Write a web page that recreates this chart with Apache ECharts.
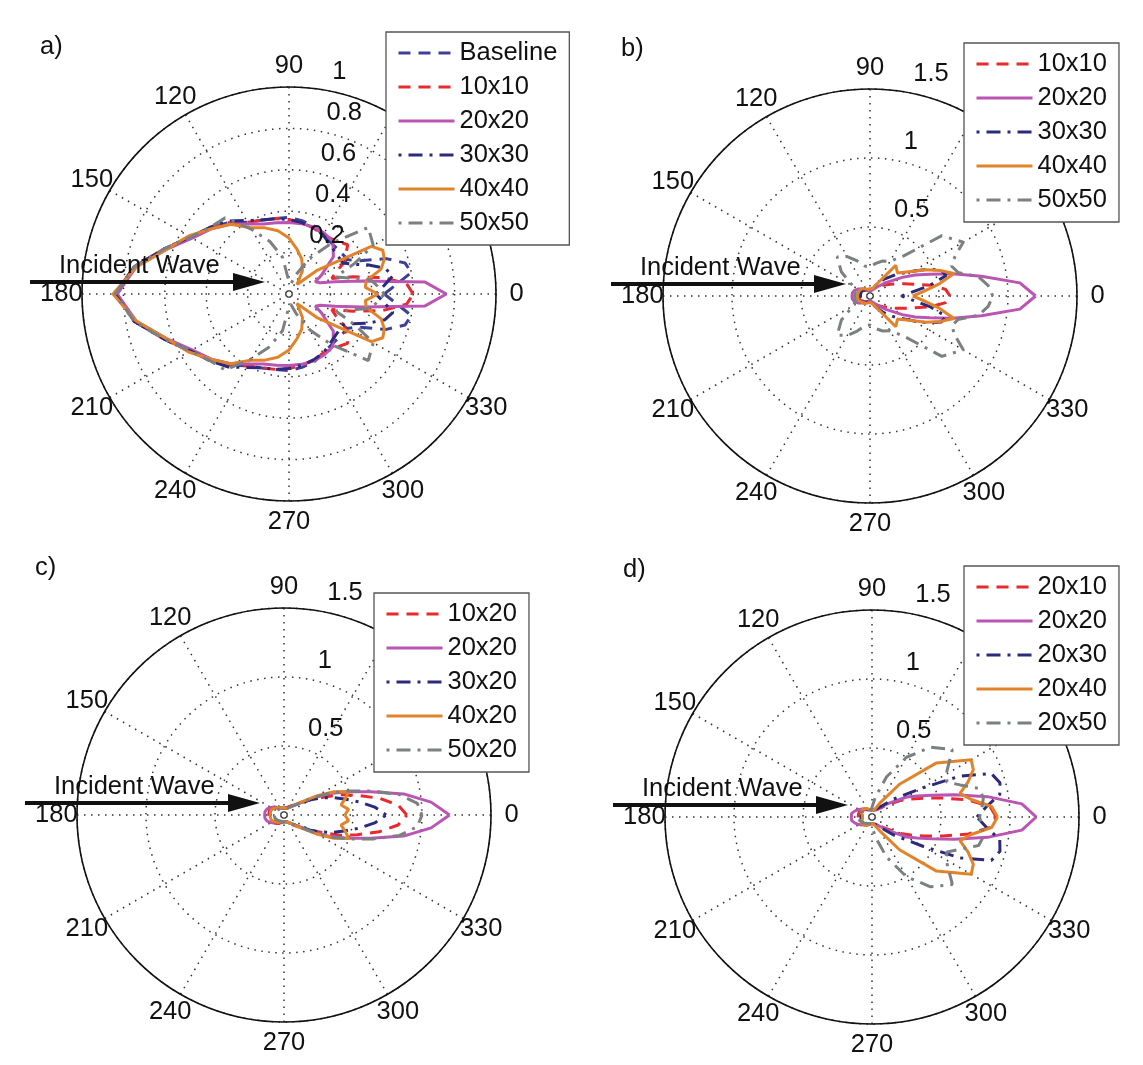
<!DOCTYPE html>
<html>
<head>
<meta charset="utf-8">
<script src="https://cdn.jsdelivr.net/npm/echarts@6/dist/echarts.min.js"></script>
<style>
html, body { margin: 0; padding: 0; background: #ffffff; }
#chart { width: 1143px; height: 1065px; }
</style>
</head>
<body>
<div id="chart"></div>
<script>
// Polar sampling angles (degrees), finer near the forward direction
const ANGLES = [0,5,10,15,20,25,30,40,50,60,70,80,90,100,110,120,130,140,150,160,170,180,
  190,200,210,220,230,240,250,260,270,280,290,300,310,320,330,335,340,345,350,355,360];

// Tick labels
const ANGLE_TICKS = [0,30,60,90,120,150,180,210,240,270,300,330];
const RING_TICKS_A = [0.2,0.4,0.6,0.8,1];
const RING_TICKS_BCD = [0.5,1,1.5];

// a) square patches of increasing size
const A_BASE = [0.46,0.52,0.60,0.58,0.50,0.38,0.33,0.32,0.32,0.33,0.35,0.36,0.37,0.37,0.38,0.40,0.45,0.50,0.55,0.64,0.76,0.83,
  0.76,0.64,0.55,0.50,0.45,0.40,0.38,0.37,0.37,0.36,0.35,0.33,0.32,0.32,0.33,0.38,0.50,0.58,0.60,0.52,0.46];
const A_10 = [0.60,0.57,0.46,0.32,0.22,0.25,0.31,0.37,0.34,0.33,0.34,0.35,0.36,0.37,0.38,0.40,0.45,0.50,0.55,0.64,0.76,0.83,
  0.76,0.64,0.55,0.50,0.45,0.40,0.38,0.37,0.36,0.35,0.34,0.33,0.34,0.37,0.31,0.25,0.22,0.32,0.46,0.57,0.60];
const A_20 = [0.76,0.66,0.36,0.23,0.16,0.14,0.18,0.28,0.33,0.34,0.345,0.345,0.345,0.35,0.36,0.39,0.44,0.49,0.54,0.63,0.75,0.83,
  0.75,0.63,0.54,0.49,0.44,0.39,0.36,0.35,0.345,0.345,0.345,0.34,0.33,0.28,0.18,0.14,0.16,0.23,0.36,0.66,0.76];
const A_30 = [0.42,0.46,0.51,0.48,0.41,0.34,0.30,0.30,0.31,0.33,0.34,0.35,0.36,0.37,0.38,0.41,0.46,0.50,0.55,0.64,0.76,0.84,
  0.76,0.64,0.55,0.50,0.46,0.41,0.38,0.37,0.36,0.35,0.34,0.33,0.31,0.30,0.30,0.34,0.41,0.48,0.51,0.46,0.42];
const A_40 = [0.43,0.37,0.38,0.46,0.49,0.50,0.46,0.18,0.06,0.13,0.18,0.22,0.27,0.31,0.34,0.37,0.44,0.49,0.56,0.63,0.75,0.85,
  0.75,0.63,0.56,0.49,0.44,0.37,0.34,0.31,0.27,0.22,0.18,0.13,0.06,0.18,0.46,0.50,0.49,0.46,0.38,0.37,0.43];
const A_50 = [0.46,0.43,0.40,0.30,0.24,0.35,0.47,0.50,0.32,0.20,0.10,0.05,0.06,0.18,0.27,0.36,0.48,0.50,0.55,0.64,0.76,0.84,
  0.76,0.64,0.55,0.50,0.48,0.36,0.27,0.18,0.06,0.05,0.10,0.20,0.32,0.50,0.47,0.35,0.24,0.30,0.40,0.43,0.46];

// b) square patches
const B_10 = [0.58,0.55,0.45,0.33,0.26,0.21,0.17,0.12,0.09,0.07,0.06,0.05,0.05,0.05,0.05,0.05,0.05,0.06,0.07,0.08,0.08,0.08,
  0.08,0.08,0.07,0.06,0.05,0.05,0.05,0.05,0.05,0.05,0.06,0.07,0.09,0.12,0.17,0.21,0.26,0.33,0.45,0.55,0.58];
const B_20 = [1.20,1.09,0.82,0.62,0.46,0.36,0.27,0.15,0.09,0.06,0.05,0.04,0.04,0.04,0.04,0.05,0.06,0.08,0.10,0.12,0.13,0.13,
  0.13,0.12,0.10,0.08,0.06,0.05,0.04,0.04,0.04,0.04,0.05,0.06,0.09,0.15,0.27,0.36,0.46,0.62,0.82,1.09,1.20];
const B_30 = [0.23,0.30,0.44,0.57,0.55,0.46,0.36,0.24,0.16,0.10,0.06,0.05,0.05,0.05,0.05,0.05,0.06,0.06,0.07,0.07,0.07,0.07,
  0.07,0.07,0.07,0.06,0.06,0.05,0.05,0.05,0.05,0.05,0.06,0.10,0.16,0.24,0.36,0.46,0.55,0.57,0.44,0.30,0.23];
const B_40 = [0.31,0.39,0.51,0.63,0.54,0.45,0.36,0.26,0.29,0.10,0.06,0.05,0.05,0.05,0.05,0.06,0.07,0.08,0.08,0.09,0.09,0.09,
  0.09,0.09,0.08,0.08,0.07,0.06,0.05,0.05,0.05,0.05,0.06,0.10,0.29,0.26,0.36,0.45,0.54,0.63,0.51,0.39,0.31];
const B_50 = [0.89,0.86,0.80,0.66,0.63,0.68,0.78,0.68,0.38,0.29,0.27,0.24,0.21,0.22,0.27,0.33,0.37,0.27,0.14,0.11,0.11,0.11,
  0.11,0.11,0.14,0.27,0.37,0.33,0.27,0.22,0.21,0.24,0.27,0.29,0.38,0.68,0.78,0.68,0.63,0.66,0.80,0.86,0.89];

// c) length varied, width 20
const C_10 = [0.89,0.83,0.70,0.55,0.43,0.30,0.22,0.13,0.09,0.07,0.06,0.05,0.05,0.05,0.06,0.07,0.08,0.09,0.10,0.11,0.11,0.11,
  0.11,0.11,0.10,0.09,0.08,0.07,0.06,0.05,0.05,0.05,0.06,0.07,0.09,0.13,0.22,0.30,0.43,0.55,0.70,0.83,0.89];
const C_20 = [1.20,1.07,0.88,0.65,0.49,0.37,0.25,0.12,0.08,0.06,0.05,0.05,0.05,0.05,0.05,0.06,0.07,0.09,0.11,0.13,0.14,0.14,
  0.14,0.13,0.11,0.09,0.07,0.06,0.05,0.05,0.05,0.05,0.05,0.06,0.08,0.12,0.25,0.37,0.49,0.65,0.88,1.07,1.20];
const C_30 = [0.74,0.66,0.55,0.45,0.37,0.29,0.22,0.12,0.08,0.06,0.05,0.05,0.05,0.05,0.05,0.06,0.07,0.08,0.09,0.10,0.10,0.10,
  0.10,0.10,0.09,0.08,0.07,0.06,0.05,0.05,0.05,0.05,0.05,0.06,0.08,0.12,0.22,0.29,0.37,0.45,0.55,0.66,0.74];
const C_40 = [0.44,0.47,0.42,0.46,0.50,0.40,0.28,0.13,0.08,0.06,0.05,0.05,0.05,0.05,0.05,0.06,0.07,0.08,0.09,0.10,0.10,0.10,
  0.10,0.10,0.09,0.08,0.07,0.06,0.05,0.05,0.05,0.05,0.05,0.06,0.08,0.13,0.28,0.40,0.50,0.46,0.42,0.47,0.44];
const C_50 = [1.00,0.97,0.85,0.67,0.51,0.38,0.26,0.12,0.08,0.06,0.05,0.05,0.05,0.05,0.05,0.05,0.05,0.06,0.06,0.07,0.07,0.07,
  0.07,0.07,0.06,0.06,0.05,0.05,0.05,0.05,0.05,0.05,0.05,0.06,0.08,0.12,0.26,0.38,0.51,0.67,0.85,0.97,1.00];

// d) length 20, width varied
const D_10 = [0.90,0.86,0.71,0.53,0.40,0.31,0.24,0.13,0.08,0.06,0.05,0.05,0.05,0.05,0.05,0.06,0.07,0.08,0.09,0.10,0.10,0.10,
  0.10,0.10,0.09,0.08,0.07,0.06,0.05,0.05,0.05,0.05,0.05,0.06,0.08,0.13,0.24,0.31,0.40,0.53,0.71,0.86,0.90];
const D_20 = [1.19,1.09,0.85,0.62,0.46,0.36,0.29,0.15,0.09,0.06,0.05,0.05,0.05,0.05,0.05,0.06,0.07,0.09,0.11,0.13,0.15,0.15,
  0.15,0.13,0.11,0.09,0.07,0.06,0.05,0.05,0.05,0.05,0.05,0.06,0.09,0.15,0.29,0.36,0.46,0.62,0.85,1.09,1.19];
const D_30 = [0.76,0.83,0.94,0.96,0.92,0.70,0.42,0.20,0.10,0.07,0.06,0.05,0.05,0.05,0.05,0.06,0.07,0.08,0.08,0.08,0.08,0.08,
  0.08,0.08,0.08,0.08,0.07,0.06,0.05,0.05,0.05,0.05,0.06,0.07,0.10,0.20,0.42,0.70,0.92,0.96,0.94,0.83,0.76];
const D_40 = [0.91,0.87,0.73,0.66,0.74,0.81,0.83,0.61,0.31,0.12,0.06,0.05,0.05,0.05,0.06,0.07,0.08,0.09,0.09,0.08,0.07,0.07,
  0.07,0.08,0.09,0.09,0.08,0.07,0.06,0.05,0.05,0.05,0.06,0.12,0.31,0.61,0.83,0.81,0.74,0.66,0.73,0.87,0.91];
const D_50 = [0.78,0.80,0.82,0.80,0.68,0.60,0.62,0.76,0.66,0.50,0.31,0.15,0.07,0.05,0.05,0.05,0.06,0.07,0.08,0.09,0.10,0.10,
  0.10,0.09,0.08,0.07,0.06,0.05,0.05,0.05,0.07,0.15,0.31,0.50,0.66,0.76,0.62,0.60,0.68,0.80,0.82,0.80,0.78];

const FONT = '"Liberation Sans", Arial, Helvetica, sans-serif';
const FONT_SIZE = 25.5;
const TEXT_COLOR = '#111111';

// Line appearance per curve family
const STYLE = {
  navyDash:    { color: '#3d3f98', type: [12, 8] },
  redDash:     { color: '#e8292d', type: [12, 8] },
  purple:      { color: '#bb55b3', type: 'solid' },
  navyDashDot: { color: '#2b2a7c', type: [3, 7, 14, 7] },
  orange:      { color: '#e2832a', type: 'solid' },
  greyDashDot: { color: '#7d8080', type: [3, 7, 14, 7] }
};

const PANELS = [
  { tag: 'a)', center: [289, 294], rMax: 1, step: 0.2, rings: RING_TICKS_A,
    names: ['Baseline', '10x10', '20x20', '30x30', '40x40', '50x50'],
    styles: ['navyDash', 'redDash', 'purple', 'navyDashDot', 'orange', 'greyDashDot'],
    values: [A_BASE, A_10, A_20, A_30, A_40, A_50],
    legendPos: { left: 386, top: 32 } },
  { tag: 'b)', center: [870, 296], rMax: 1.5, step: 0.5, rings: RING_TICKS_BCD,
    names: ['10x10', '20x20', '30x30', '40x40', '50x50'],
    styles: ['redDash', 'purple', 'navyDashDot', 'orange', 'greyDashDot'],
    values: [B_10, B_20, B_30, B_40, B_50],
    legendPos: { left: 964, top: 43 } },
  { tag: 'c)', center: [284, 815], rMax: 1.5, step: 0.5, rings: RING_TICKS_BCD,
    names: ['10x20', '20x20', '30x20', '40x20', '50x20'],
    styles: ['redDash', 'purple', 'navyDashDot', 'orange', 'greyDashDot'],
    values: [C_10, C_20, C_30, C_40, C_50],
    legendPos: { left: 374, top: 593 } },
  { tag: 'd)', center: [872, 817], rMax: 1.5, step: 0.5, rings: RING_TICKS_BCD,
    names: ['20x10', '20x20', '20x30', '20x40', '20x50'],
    styles: ['redDash', 'purple', 'navyDashDot', 'orange', 'greyDashDot'],
    values: [D_10, D_20, D_30, D_40, D_50],
    legendPos: { left: 964, top: 566 } }
];

const RADIUS_PX = 207;
const gridLine = { color: '#333333', width: 1.5, type: [1.5, 5.5] };
const hiddenSymbol = { color: 'rgba(0,0,0,0)', opacity: 1 };

const polar = [], angleAxis = [], radiusAxis = [], series = [], legend = [], graphic = [];

PANELS.forEach((p, i) => {
  polar.push({ center: p.center, radius: RADIUS_PX });
  angleAxis.push({
    polarIndex: i, type: 'value', min: 0, max: 360, interval: 30,
    startAngle: 0, clockwise: false,
    axisLine: { show: true, lineStyle: { color: '#111', width: 1.6 } },
    axisTick: { show: false }, axisLabel: { show: false },
    splitLine: { show: true, lineStyle: gridLine }
  });
  radiusAxis.push({
    polarIndex: i, type: 'value', min: 0, max: p.rMax, interval: p.step,
    axisLine: { show: false }, axisTick: { show: false }, axisLabel: { show: false },
    splitLine: { show: true, lineStyle: gridLine }
  });

  p.names.forEach((name, k) => {
    const st = STYLE[p.styles[k]];
    series.push({
      name, type: 'line', coordinateSystem: 'polar', polarIndex: i,
      symbol: 'none', showSymbol: false, smooth: false, silent: true, z: 3,
      lineStyle: { color: st.color, width: 3, type: st.type },
      itemStyle: { color: st.color },
      data: ANGLES.map((a, j) => [p.values[k][j], a])
    });
  });

  // angle labels just outside the rim
  series.push({
    type: 'scatter', coordinateSystem: 'polar', polarIndex: i, clip: false,
    symbolSize: 1, silent: true, z: 4, itemStyle: hiddenSymbol,
    data: ANGLE_TICKS.map(a => [p.rMax * 1.1, a]),
    label: { show: true, position: 'inside', formatter: q => String(q.value[1]),
      fontSize: FONT_SIZE, fontFamily: FONT, color: TEXT_COLOR, opacity: 1,
      textBorderWidth: 0 }
  });
  // ring value labels along the 82 degree ray
  series.push({
    type: 'scatter', coordinateSystem: 'polar', polarIndex: i, clip: false,
    symbolSize: 1, silent: true, z: 4, itemStyle: hiddenSymbol,
    data: p.rings.map(v => [v, 82]),
    label: { show: true, position: [15, -17], align: 'left', verticalAlign: 'middle',
      formatter: q => String(q.value[0]),
      fontSize: FONT_SIZE, fontFamily: FONT, color: TEXT_COLOR, opacity: 1,
      textBorderWidth: 0 }
  });

  legend.push({
    data: p.names, orient: 'vertical', left: p.legendPos.left, top: p.legendPos.top,
    itemWidth: 56, itemHeight: 14, itemGap: 8, padding: [8, 12, 9, 11],
    backgroundColor: '#ffffff', borderColor: '#555555', borderWidth: 1.3, borderRadius: 0,
    selectedMode: false, z: 10,
    itemStyle: { color: 'rgba(0,0,0,0)', borderColor: 'rgba(0,0,0,0)', borderWidth: 0 },
    lineStyle: { width: 3 },
    textStyle: { fontSize: FONT_SIZE, lineHeight: 25, fontFamily: FONT, color: TEXT_COLOR }
  });

  const cx = p.center[0], cy = p.center[1];
  graphic.push(
    { type: 'line', z: 20, silent: true,
      shape: { x1: cx - 259, y1: cy - 12, x2: cx - 52, y2: cy - 12 },
      style: { stroke: '#111', lineWidth: 4 } },
    { type: 'polygon', z: 20, silent: true,
      shape: { points: [[cx - 56, cy - 21], [cx - 24, cy - 12], [cx - 56, cy - 3]] },
      style: { fill: '#111' } },
    { type: 'text', z: 20, silent: true, x: cx - 230, y: cy - 28,
      style: { text: 'Incident Wave', font: FONT_SIZE + 'px ' + FONT, fill: TEXT_COLOR,
        textAlign: 'left', textVerticalAlign: 'middle', align: 'left', verticalAlign: 'middle' } },
    { type: 'text', z: 20, silent: true, x: cx - 249, y: cy - 247,
      style: { text: p.tag, font: FONT_SIZE + 'px ' + FONT, fill: TEXT_COLOR,
        textAlign: 'left', textVerticalAlign: 'middle', align: 'left', verticalAlign: 'middle' } }
  );
});

const chart = echarts.init(document.getElementById('chart'), null, { renderer: 'canvas' });
chart.setOption({
  backgroundColor: '#ffffff',
  animation: false,
  polar, angleAxis, radiusAxis, legend, series, graphic
});
</script>
</body>
</html>
